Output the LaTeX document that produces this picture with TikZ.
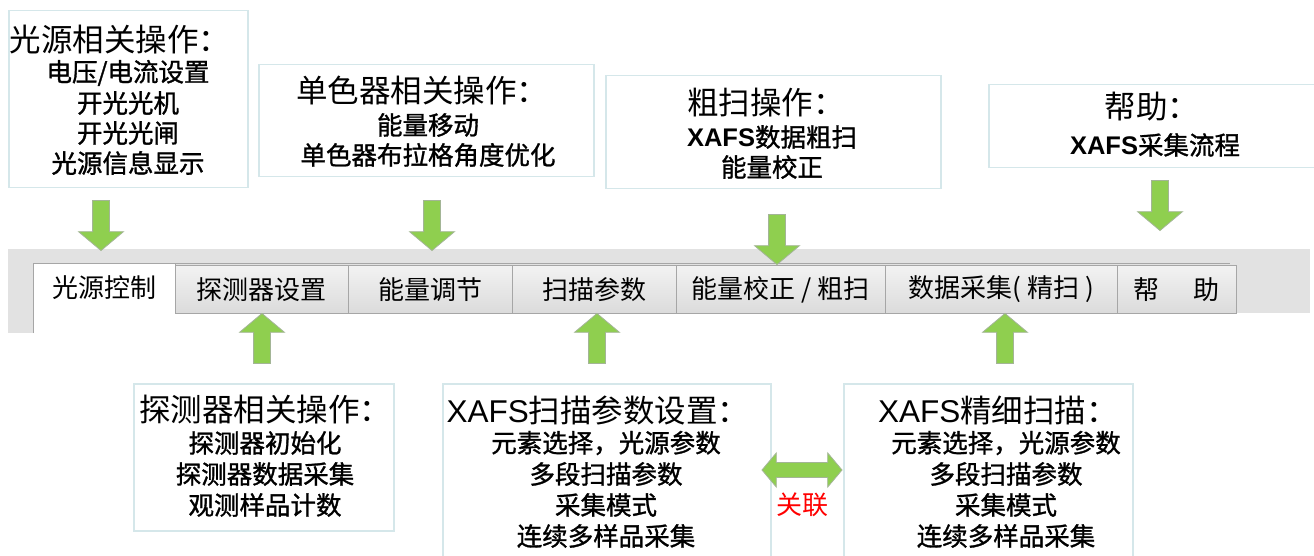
\documentclass[tikz,border=0pt]{standalone}
\usepackage{fontspec}
\newfontfamily\cjk{Noto Sans CJK SC}
\newfontfamily\cjkmid[FakeBold=1.2]{Noto Sans CJK SC}
\newfontfamily\arial{Liberation Sans}
\usetikzlibrary{shapes.arrows}
\definecolor{boxline}{HTML}{D5E7EA}
\definecolor{agreen}{HTML}{8FCF4F}
\definecolor{aline}{HTML}{A3B596}
\definecolor{bargray}{HTML}{E2E2E2}
\definecolor{tabline}{HTML}{A6A6A6}
\begin{document}
\begin{tikzpicture}[x=1pt,y=-1pt,
  infobox/.style={draw=boxline, line width=1.5pt, fill=white, anchor=north west, inner sep=0},
  ttl/.style={font=\cjk\fontsize{31.5}{33}\selectfont, inner sep=0},
  subl/.style={font=\cjkmid\fontsize{25.5}{30}\selectfont, inner sep=0},
  tabbox/.style={draw=tabline, line width=0.8pt, top color=white!95!black, bottom color=white!86!black, anchor=north west, inner sep=0, font=\cjk\fontsize{26}{28}\selectfont},
  downarrow/.style={shape=single arrow, draw=aline, fill=agreen, line width=0.8pt, rotate=-90, minimum height=50pt, minimum width=44pt, inner sep=8pt, single arrow head extend=14pt, single arrow head indent=0pt, single arrow tip angle=100},
  uparrow/.style={downarrow, rotate=180},
]
\useasboundingbox (0,0) rectangle (1314,556);
\fill[white] (0,0) rectangle (1314,556);

% ---- tab bar ----
\fill[bargray] (8,249) rectangle (1310,313);
\fill[bargray] (8,313) rectangle (33,333);
\draw[tabline, line width=0.8pt] (33,263) -- (1230,263);
\node[tabbox, minimum width=173pt, minimum height=48pt] (t2) at (175,265) {探测器设置};
\node[tabbox, minimum width=164pt, minimum height=48pt] (t3) at (348,265) {能量调节};
\node[tabbox, minimum width=164pt, minimum height=48pt] (t4) at (512,265) {扫描参数};
\node[tabbox, minimum width=209pt, minimum height=48pt] (t5) at (676,265) {能量校正 / 粗扫};
\node[tabbox, minimum width=232pt, minimum height=48pt] (t6) at (885,265) {数据采集( 精扫 )};
\node[tabbox, minimum width=119pt, minimum height=48pt] (t7) at (1117,265) {帮\hspace{34pt}助};
\fill[white] (33,263) rectangle (175,335);
\draw[tabline, line width=0.8pt] (33,333) -- (33,263) -- (175,263) -- (175,313);
\node[font=\cjk\fontsize{26}{28}\selectfont, inner sep=0] (t1) at (104,288) {光源控制};

% ---- top boxes ----
\node[infobox, minimum width=239pt, minimum height=177pt] (b1) at (8,10) {};
\node[ttl] (b1t) at (120,40) {光源相关操作：};
\node[subl] (b1a) at (128,73) {电压/电流设置};
\node[subl] (b1b) at (128,103) {开光光机};
\node[subl] (b1c) at (128,133) {开光光闸};
\node[subl] (b1d) at (128,163) {光源信息显示};

\node[infobox, minimum width=335pt, minimum height=112pt] (b2) at (258,64) {};
\node[ttl] (b2t) at (422,91) {单色器相关操作：};
\node[subl] (b2a) at (428,125) {能量移动};
\node[subl] (b2b) at (428,155) {单色器布拉格角度优化};

\node[infobox, minimum width=335pt, minimum height=113pt] (b3) at (605,75) {};
\node[ttl] (b3t) at (766,103) {粗扫操作：};
\node[subl] (b3a) at (772,137) {{\arial\bfseries XAFS}数据粗扫};
\node[subl] (b3b) at (772,167) {能量校正};

\node[infobox, minimum width=330pt, minimum height=83pt] (b4) at (988,84) {};
\node[ttl] (b4t) at (1152,107) {帮助：};
\node[subl] (b4a) at (1155,145) {{\arial\bfseries XAFS}采集流程};

% ---- bottom boxes ----
\node[infobox, minimum width=260pt, minimum height=147pt] (b5) at (133,383) {};
\node[ttl] (b5t) at (265,410) {探测器相关操作：};
\node[subl] (b5a) at (265,443) {探测器初始化};
\node[subl] (b5b) at (265,474) {探测器数据采集};
\node[subl] (b5c) at (265,505) {观测样品计数};

\node[infobox, minimum width=328pt, minimum height=180pt] (b6) at (442,383) {};
\node[ttl] (b6t) at (598,410) {{\arial XAFS}扫描参数设置：};
\node[subl] (b6a) at (606,443) {元素选择，光源参数};
\node[subl] (b6b) at (606,474) {多段扫描参数};
\node[subl] (b6c) at (606,505) {采集模式};
\node[subl] (b6d) at (606,536) {连续多样品采集};

\node[infobox, minimum width=289pt, minimum height=180pt] (b7) at (843,383) {};
\node[ttl] (b7t) at (998,410) {{\arial XAFS}精细扫描：};
\node[subl] (b7a) at (1006,443) {元素选择，光源参数};
\node[subl] (b7b) at (1006,474) {多段扫描参数};
\node[subl] (b7c) at (1006,505) {采集模式};
\node[subl] (b7d) at (1006,536) {连续多样品采集};

% ---- arrows ----
\node[downarrow] (a1) at (101,222) {};
\node[downarrow] (a2) at (432,222) {};
\node[downarrow] (a3) at (777,236) {};
\node[downarrow] (a4) at (1160,202) {};
\node[uparrow] (a5) at (262,342) {};
\node[uparrow] (a6) at (597,342) {};
\node[uparrow] (a7) at (1005,342) {};
\node[shape=double arrow, draw=aline, fill=agreen, line width=0.8pt, minimum height=80pt, minimum width=34pt, inner sep=6pt, double arrow head extend=8pt, double arrow head indent=0pt, double arrow tip angle=100] (dbl) at (802,470) {};
\node[font=\cjk\fontsize{26}{28}\selectfont, text=red, inner sep=0] (rel) at (802,505) {关联};
\end{tikzpicture}
\end{document}
